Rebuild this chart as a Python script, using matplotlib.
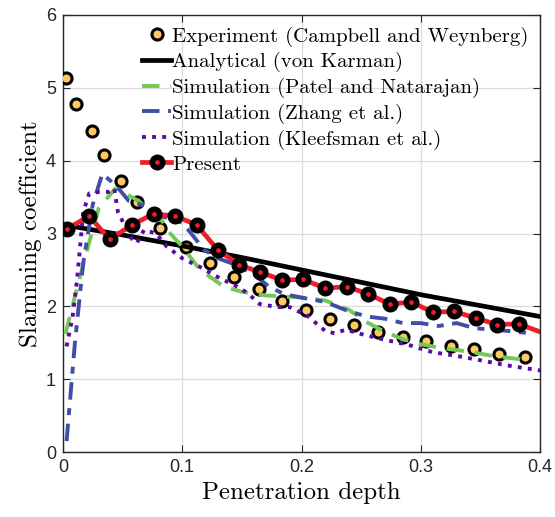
import matplotlib
matplotlib.use("Agg")
import matplotlib.pyplot as plt

# Experiment (Campbell and Weynberg)
exp_x = [0.0025, 0.011, 0.024, 0.034, 0.049, 0.062, 0.081, 0.103, 0.123, 0.143, 0.164,
         0.184, 0.204, 0.224, 0.244, 0.264, 0.285, 0.304, 0.325, 0.345, 0.366, 0.387]
exp_y = [5.14, 4.78, 4.41, 4.08, 3.72, 3.43, 3.07, 2.82, 2.59, 2.40, 2.24,
         2.07, 1.95, 1.83, 1.74, 1.65, 1.58, 1.52, 1.46, 1.41, 1.35, 1.31]

# Analytical (von Karman)
ana_x = [0.0, 0.05, 0.1, 0.15, 0.2, 0.25, 0.3, 0.35, 0.4]
ana_y = [3.12, 2.98, 2.83, 2.67, 2.50, 2.33, 2.16, 2.01, 1.86]

# Simulation (Patel and Natarajan)
pat_x = [0.002, 0.006, 0.015, 0.022, 0.03, 0.044, 0.06, 0.08, 0.09, 0.1, 0.115, 0.135,
         0.15, 0.17, 0.2, 0.22, 0.24, 0.255, 0.27, 0.285, 0.3, 0.32, 0.34, 0.36, 0.38, 0.392]
pat_y = [1.62, 1.88, 2.45, 2.88, 3.35, 3.62, 3.48, 3.25, 3.0, 2.82, 2.5, 2.27,
         2.2, 2.15, 2.12, 2.08, 1.95, 1.78, 1.65, 1.55, 1.48, 1.42, 1.38, 1.32, 1.28, 1.26]

# Simulation (Zhang et al.)
zha_x = [0.003, 0.01, 0.017, 0.025, 0.033, 0.045, 0.055, 0.065, 0.08, 0.1, 0.11, 0.118,
         0.13, 0.145, 0.16, 0.172, 0.185, 0.2, 0.22, 0.24, 0.255, 0.27, 0.285, 0.3,
         0.315, 0.33, 0.345, 0.36, 0.375, 0.392]
zha_y = [0.15, 1.5, 2.6, 3.4, 3.82, 3.65, 3.45, 3.4, 3.25, 3.15, 2.95, 2.78,
         2.66, 2.57, 2.44, 2.28, 2.17, 2.12, 2.06, 1.93, 1.86, 1.83, 1.77, 1.77,
         1.73, 1.77, 1.70, 1.68, 1.66, 1.63]

# Simulation (Kleefsman et al.)
kle_x = [0.003, 0.008, 0.012, 0.017, 0.022, 0.03, 0.038, 0.043, 0.046, 0.052, 0.058,
         0.062, 0.068, 0.078, 0.087, 0.1, 0.115, 0.13, 0.145, 0.155, 0.165, 0.18, 0.19,
         0.205, 0.22, 0.228, 0.237, 0.25, 0.27, 0.29, 0.31, 0.33, 0.35, 0.372, 0.4]
kle_y = [1.45, 1.85, 2.4, 3.3, 3.55, 3.57, 3.57, 3.62, 3.3, 3.1, 2.92,
         2.87, 3.05, 3.0, 2.82, 2.66, 2.54, 2.4, 2.28, 2.18, 2.03, 1.99, 1.99,
         1.87, 1.66, 1.63, 1.68, 1.62, 1.54, 1.47, 1.37, 1.32, 1.26, 1.19, 1.12]

# Present
pre_x = [0.003, 0.022, 0.039, 0.058, 0.076, 0.094, 0.112, 0.130, 0.148, 0.165, 0.184,
         0.201, 0.220, 0.238, 0.256, 0.274, 0.292, 0.310, 0.328, 0.346, 0.364, 0.382, 0.4]
pre_y = [3.06, 3.24, 2.92, 3.12, 3.27, 3.24, 3.12, 2.77, 2.57, 2.47, 2.36,
         2.37, 2.25, 2.27, 2.17, 2.03, 2.06, 1.92, 1.93, 1.84, 1.75, 1.76, 1.65]

serif = "cmr10"
tick_font = "Liberation Sans"

fig = plt.figure(figsize=(5.55, 5.17), dpi=100)
ax = fig.add_axes([0.1135, 0.1257, 0.8595, 0.8453])

ax.plot(exp_x, exp_y, "o", ms=8, mfc="#FEC965", mec="black", mew=2.2,
        label="Experiment (Campbell and Weynberg)", zorder=3)
ax.plot(ana_x, ana_y, "-", color="black", lw=3.4, label="Analytical (von Karman)", zorder=4)
ax.plot(pat_x, pat_y, "--", color="#74C856", lw=2.8, dashes=(4.5, 2.8),
        label="Simulation (Patel and Natarajan)", zorder=4)
ax.plot(zha_x, zha_y, color="#3F4EA6", lw=2.8, dashes=(4.5, 2.2, 1.8, 2.2),
        label="Simulation (Zhang et al.)", zorder=4)
ax.plot(kle_x, kle_y, color="#5A0AA6", lw=2.8, dashes=(1.0, 1.6),
        label="Simulation (Kleefsman et al.)", zorder=4)
ax.plot(pre_x, pre_y, "-", color="#EE1D2A", lw=3.4, marker="o", ms=7.5,
        mfc="#EE1D2A", mec="black", mew=4, markevery=list(range(len(pre_x) - 1)),
        label="Present", zorder=5)

ax.set_xlim(0, 0.4)
ax.set_ylim(0, 6)
ax.set_xticks([0, 0.1, 0.2, 0.3, 0.4])
ax.set_xticklabels(["0", "0.1", "0.2", "0.3", "0.4"])
ax.set_yticks(range(7))
ax.tick_params(direction="in", top=True, right=True, length=5, width=0.8,
               colors="#262626", labelsize=13, pad=5)
for lab in ax.get_xticklabels() + ax.get_yticklabels():
    lab.set_fontfamily(tick_font)
ax.grid(True, color="#DCDCDC", lw=0.9)
ax.set_axisbelow(True)
for s in ax.spines.values():
    s.set_color("#262626")
    s.set_linewidth(1.0)

ax.set_xlabel("Penetration depth", fontfamily=serif, fontsize=18, labelpad=4)
ax.set_ylabel("Slamming coefficient", fontfamily=serif, fontsize=18, labelpad=3)

leg = ax.legend(loc="upper right", bbox_to_anchor=(1.0, 1.0), frameon=False,
                prop={"family": serif, "size": 15}, handlelength=1.4,
                handletextpad=0.05, labelspacing=0.27, borderaxespad=0.15)

fig.savefig("out.png", dpi=100)
